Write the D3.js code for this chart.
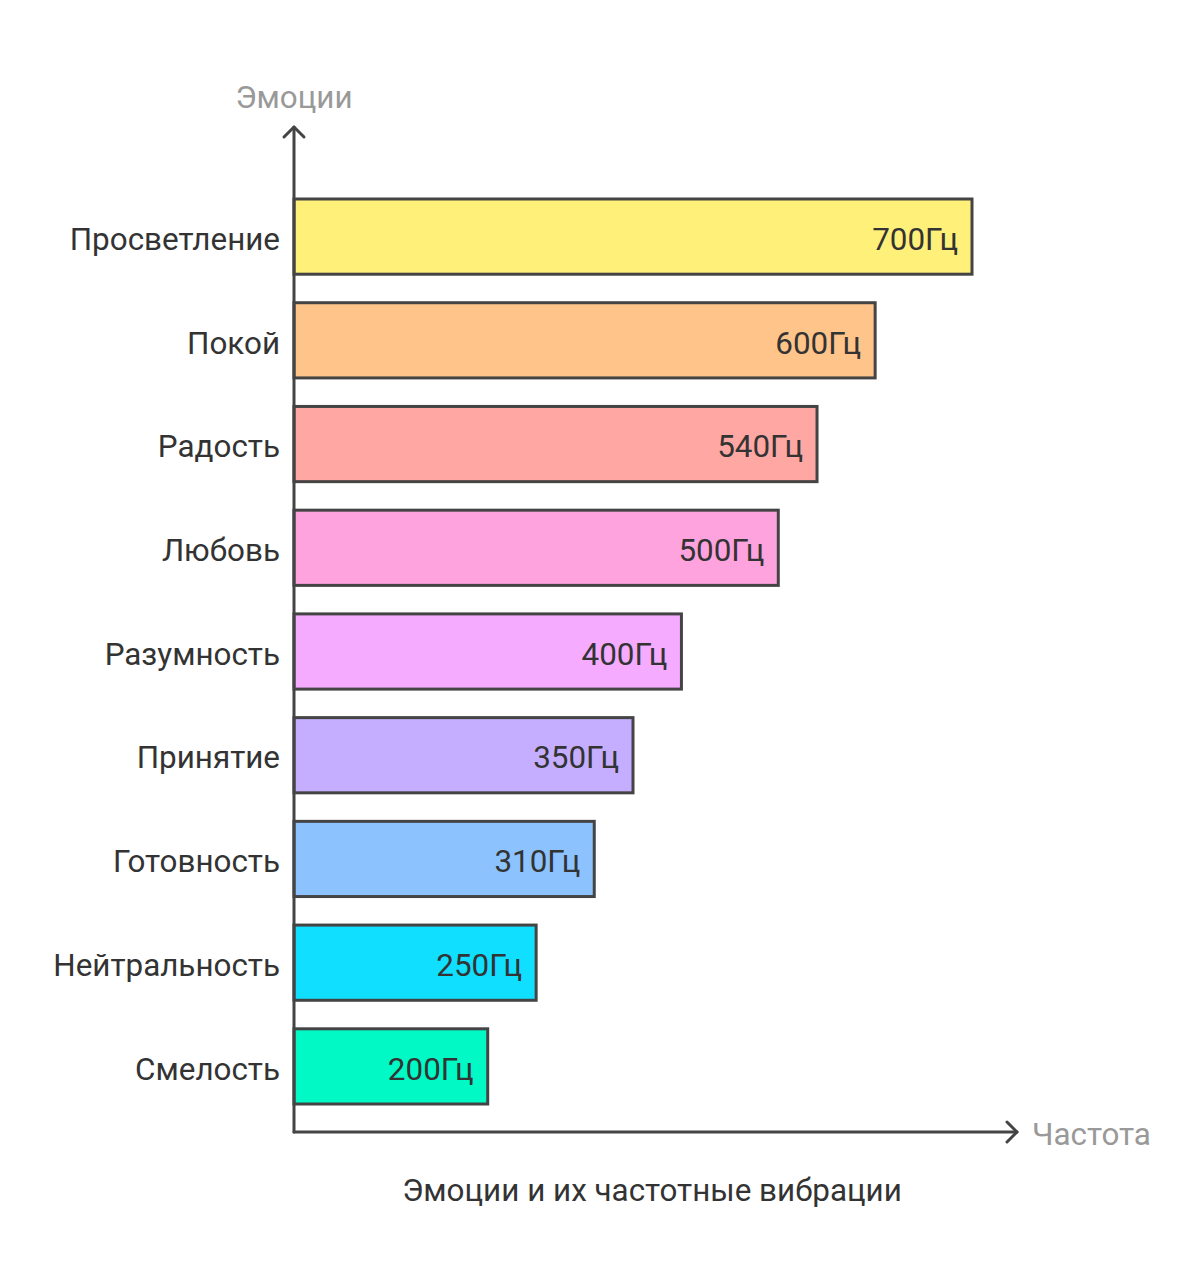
<!DOCTYPE html>
<html>
<head>
<meta charset="utf-8">
<script src="https://cdn.jsdelivr.net/npm/d3@7"></script>
<style>
  body { margin: 0; background: #fff; }
  text { font-family: Roboto, "Noto Sans", sans-serif; }
</style>
</head>
<body>
<div id="chart"></div>
<script>
// Data
const emotions = ['Просветление', 'Покой', 'Радость', 'Любовь', 'Разумность', 'Принятие', 'Готовность', 'Нейтральность', 'Смелость'];
const frequencies = [700, 600, 540, 500, 400, 350, 310, 250, 200];
const barColors = ['#FFF07A', '#FFC48A', '#FFA8A3', '#FFA3DE', '#F5ABFF', '#C5AEFF', '#8CC3FF', '#10DFFF', '#00F9C4'];
const unit = 'Гц';
const xTitle = 'Частота';
const yTitle = 'Эмоции';
const chartTitle = 'Эмоции и их частотные вибрации';

const W = 1200, H = 1285;
const axisX = 294, axisY = 1132;
const ink = '#444';
const fontSize = '31.4px';

const svg = d3.select('#chart')
    .append('svg')
    .attr('width', W)
    .attr('height', H);

// Scales
const x = d3.scaleLinear()
    .domain([0, 700])
    .range([axisX, 972]);

const y = d3.scaleBand()
    .domain(emotions)
    .range([199, 1104])
    .paddingInner(0.275)
    .paddingOuter(0);

const data = emotions.map((e, i) => ({ name: e, value: frequencies[i], color: barColors[i] }));

// Bars
svg.selectAll('.bar')
    .data(data)
    .enter()
    .append('rect')
    .attr('class', 'bar')
    .attr('x', x(0))
    .attr('y', d => y(d.name))
    .attr('width', d => x(d.value) - x(0))
    .attr('height', y.bandwidth())
    .style('fill', d => d.color)
    .style('stroke', ink)
    .style('stroke-width', 3);

// Value labels
svg.selectAll('.val')
    .data(data)
    .enter()
    .append('text')
    .attr('class', 'val')
    .attr('x', d => x(d.value) - 14)
    .attr('y', d => y(d.name) + y.bandwidth() / 2)
    .attr('dy', '0.42em')
    .style('text-anchor', 'end')
    .style('font-size', fontSize)
    .style('fill', '#333')
    .text(d => d.value + unit);

// Category labels
svg.selectAll('.cat')
    .data(data)
    .enter()
    .append('text')
    .attr('class', 'cat')
    .attr('x', axisX - 14)
    .attr('y', d => y(d.name) + y.bandwidth() / 2)
    .attr('dy', '0.42em')
    .style('text-anchor', 'end')
    .style('font-size', fontSize)
    .style('fill', '#333')
    .text(d => d.name);

// Axes with arrows
const axes = svg.append('g')
    .style('fill', 'none')
    .style('stroke', ink)
    .style('stroke-width', 3)
    .style('stroke-linecap', 'round')
    .style('stroke-linejoin', 'round');

axes.append('path').attr('d', `M${axisX},${axisY} V127`);
axes.append('path').attr('d', `M${axisX - 10},137 L${axisX},127 L${axisX + 10},137`);
axes.append('path').attr('d', `M${axisX},${axisY} H1017`);
axes.append('path').attr('d', `M1007,${axisY - 10} L1017,${axisY} L1007,${axisY + 10}`);

// Axis titles
svg.append('text')
    .attr('x', axisX)
    .attr('y', 108)
    .style('text-anchor', 'middle')
    .style('font-size', fontSize)
    .style('fill', '#999')
    .text(yTitle);

svg.append('text')
    .attr('x', 1032)
    .attr('y', axisY + 2)
    .attr('dy', '0.36em')
    .style('font-size', fontSize)
    .style('fill', '#999')
    .text(xTitle);

// Chart title
svg.append('text')
    .attr('x', 652)
    .attr('y', 1201)
    .style('text-anchor', 'middle')
    .style('font-size', fontSize)
    .style('fill', '#333')
    .text(chartTitle);
</script>
</body>
</html>
